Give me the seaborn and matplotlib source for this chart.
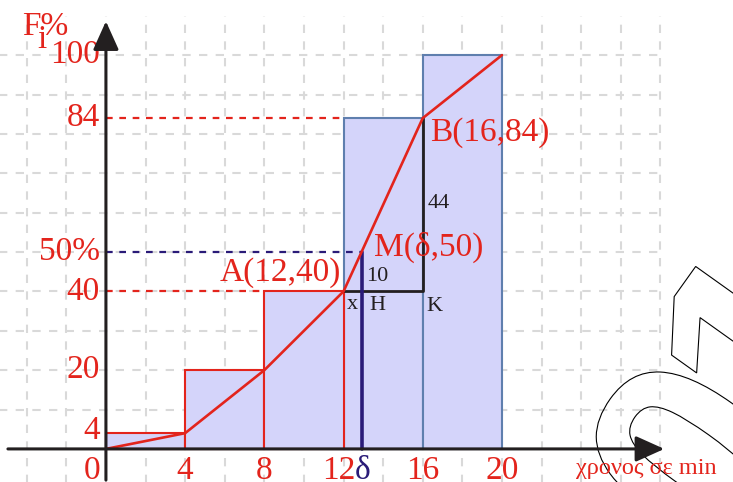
import matplotlib
matplotlib.use("Agg")
import matplotlib.pyplot as plt
import seaborn as sns
import pandas as pd
from matplotlib.textpath import TextPath
from matplotlib.font_manager import FontProperties
from matplotlib.patches import PathPatch
from matplotlib.transforms import Affine2D, IdentityTransform

# data
class_centers = [2, 6, 10, 14, 18]
cum_percent = [4, 20, 40, 84, 100]
ogive_x = [0, 4, 8, 12, 16, 20]
ogive_y = [0, 4, 20, 40, 84, 100]
x_tick_vals = [4, 8, 12, 16, 20]
x_tick_labels = ["4", "8", "12", "16", "20"]
y_tick_vals = [100, 84, 50, 40, 20, 4.6]
y_tick_labels = ["100", "84", "50%", "40", "20", "4"]
delta = 12 + (50 - 40) / (84 - 40) * 4

RED = "#e3241c"
NAVY = "#2a1b78"
BLACK = "#231f20"
FILL = "#d4d4fa"
EDGE_BLUE = "#5f7fae"
SERIF = "Liberation Serif"

sns.set_style("white")
fig = plt.figure(figsize=(7.33, 4.82), dpi=100)
ax = fig.add_axes([0, 0, 1, 1])

# grid (dashed, light grey)
grid_kw = dict(color="#d9d9d9", lw=1.5, linestyles=(0, (4, 4)), zorder=0.2)
ax.vlines(range(-4, 29, 2), -9, 110, **grid_kw)
ax.hlines(range(10, 101, 10), -6, 28, **grid_kw)

# histogram of cumulative frequencies
df = pd.DataFrame({"x": class_centers, "F": cum_percent})
sns.barplot(data=df, x="x", y="F", native_scale=True, width=1, color=FILL,
            saturation=1, linewidth=1.5, ax=ax, zorder=1)
for bar in list(ax.patches):
    if bar.get_x() < 11:
        bar.set_edgecolor(RED)
        bar.set_zorder(1.2)
    else:
        bar.set_edgecolor(EDGE_BLUE)
        bar.set_zorder(1.0)

# watermark outline
fp = FontProperties(family="Liberation Sans", weight="bold")
S = 285
ext = TextPath((0, 0), "0", size=S, prop=fp).get_extents()
cx, cy = (ext.x0 + ext.x1) / 2, (ext.y0 + ext.y1) / 2
for ch, (px, py) in [("0", (692, 458)), ("1", (760, 345))]:
    tp = TextPath((0, 0), ch, size=S, prop=fp)
    tr = Affine2D().translate(-cx, -cy).rotate_deg(54.5).translate(px, 482 - py) + IdentityTransform()
    ax.add_patch(PathPatch(tp, transform=tr, fc="none", ec="black", lw=0.8, zorder=0.5))

# ogive
sns.lineplot(x=ogive_x, y=ogive_y, color=RED, lw=1.9, ax=ax, zorder=3)

# guide lines
ax.plot([0, 12], [84, 84], color=RED, lw=1.6, ls=(0, (3, 3)), zorder=2)
ax.plot([0, 8], [40, 40], color=RED, lw=1.6, ls=(0, (3, 3)), zorder=2)
ax.plot([0, delta], [50, 50], color=NAVY, lw=1.6, ls=(0, (3, 3)), zorder=2)
ax.plot([12, 16, 16], [40, 40, 84], color=BLACK, lw=2, zorder=2.5)
ax.plot([delta, delta], [0, 50], color=NAVY, lw=2.6, zorder=2.6)

# axes with arrows
arrow = dict(arrowstyle="-|>,head_length=0.8,head_width=0.36", mutation_scale=22,
             lw=2.2, color=BLACK, shrinkA=0, shrinkB=0)
ax.annotate("", xy=(28.2, 0), xytext=(-4.95, 0), arrowprops=arrow, zorder=4)
ax.annotate("", xy=(0, 108.6), xytext=(0, -7.9), arrowprops=arrow, zorder=4)

# tick labels
for v, lab in zip(y_tick_vals, y_tick_labels):
    ax.text(-0.3, v, lab, color=RED, fontsize=24, family=SERIF, ha="right", va="center")
ax.text(-0.3, -5.6, "0", color=RED, fontsize=24, family=SERIF, ha="right", va="center")
for v, lab in zip(x_tick_vals, x_tick_labels):
    ax.text(v - (0.25 if v == 12 else 0), -5.6, lab, color=RED, fontsize=24, family=SERIF,
            ha="center", va="center")
ax.text(delta + 0.05, -5.6, "δ", color=NAVY, fontsize=24, family=SERIF, ha="center", va="center")
ax.text(23.75, -5.0, "χρονος σε min", color=RED, fontsize=17.5, family=SERIF,
        ha="left", va="center")

# axis title F_i%
ax.text(-4.25, 105, "F%", color=RED, fontsize=24, family=SERIF, ha="left", va="baseline")
ax.text(-3.45, 101.7, "i", color=RED, fontsize=24, family=SERIF, ha="left", va="baseline")

# point labels
ax.text(16.35, 80.2, "B(16,84)", color=RED, fontsize=24, family=SERIF, ha="left", va="center")
ax.text(13.55, 51.3, "M(δ,50)", color=RED, fontsize=24, family=SERIF, ha="left", va="center")
ax.text(11.85, 44.9, "A(12,40)", color=RED, fontsize=24, family=SERIF, ha="right", va="center")
ax.text(16.25, 62.4, "44", color=BLACK, fontsize=16, family=SERIF, ha="left", va="center")
ax.text(13.15, 43.9, "10", color=BLACK, fontsize=16, family=SERIF, ha="left", va="center")
ax.text(12.45, 36.8, "x", color=BLACK, fontsize=16, family=SERIF, ha="center", va="center")
ax.text(13.7, 36.5, "H", color=BLACK, fontsize=16, family=SERIF, ha="center", va="center")
ax.text(16.6, 36.2, "K", color=BLACK, fontsize=16, family=SERIF, ha="center", va="center")

ax.set_xlim(-5.35, 31.67)
ax.set_ylim(-8.4, 114)
ax.axis("off")
fig.savefig("out.png", dpi=100)
